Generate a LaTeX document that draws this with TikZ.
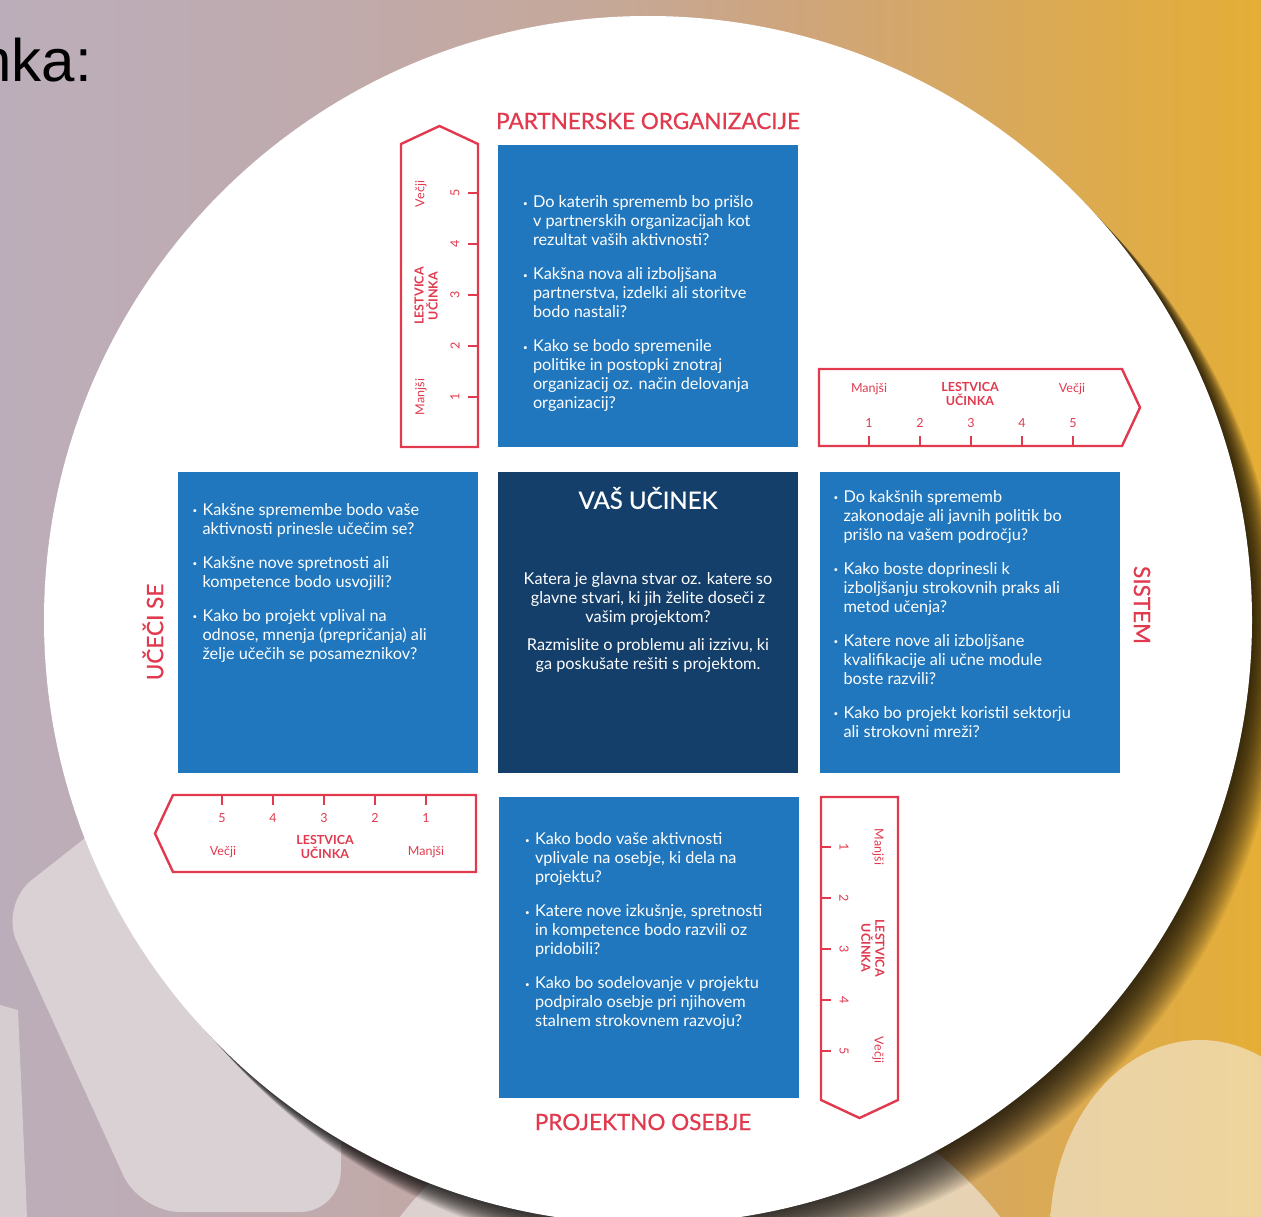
\documentclass[tikz,border=0pt]{standalone}
\usepackage{fontspec}
\setmainfont{Lato}
\newfontfamily\headfont{Liberation Sans}
\newfontfamily\labelfont[FakeBold=0.7]{Lato}
\usetikzlibrary{positioning}

\definecolor{impred}{HTML}{E13A4E}
\definecolor{impblue}{HTML}{2177BD}
\definecolor{impdark}{HTML}{143F6B}
\definecolor{bgleft}{HTML}{BBAEBA}
\definecolor{bgone}{HTML}{BFAAAE}
\definecolor{bgtwo}{HTML}{C6A899}
\definecolor{bgthree}{HTML}{CEA57C}
\definecolor{bgfour}{HTML}{D8A95C}
\definecolor{bgright}{HTML}{E4AE36}
\definecolor{paleA}{HTML}{DAD1D4}
\definecolor{paleB}{HTML}{D6CDD1}
\definecolor{paleC}{HTML}{E9D3AE}
\definecolor{sandA}{HTML}{EAD2A8}
\definecolor{sandB}{HTML}{F0D597}

% the path covers 25bp..75bp of the shading
\pgfdeclarehorizontalshading{bgshade}{100bp}{color(0bp)=(bgleft); color(25bp)=(bgleft); color(37bp)=(bgone);
  color(49bp)=(bgtwo); color(56.5bp)=(bgthree); color(64.5bp)=(bgfour); color(75bp)=(bgright); color(100bp)=(bgright)}

\newcommand{\qb}{\makebox[10pt][l]{\raisebox{1.5pt}{\fontsize{8}{8}\selectfont\textbullet}}}
\newcommand{\qi}{\hspace*{10pt}}

% one impact scale, drawn flat with ticks at the bottom
\newcommand{\lestvica}[2]{%
  \begin{scope}[#1]
    \draw[rulerline] (0,0) -- (303,0) -- (321,38.5) -- (303,77) -- (0,77) -- cycle;
    \foreach \i in {1,...,5} {
      \draw[rulerline] ({50+51*(\i-1)},77) -- ++(0,-10);
      \node[rulertext,#2] at ({50+51*(\i-1)},54) {\i};
    }
    \node[rulertext,#2] at (50,20) {Manjši};
    \node[rulerbold,#2] at (151,25) {LESTVICA\\UČINKA};
    \node[rulertext,#2] at (253,20) {Večji};
  \end{scope}}

\tikzset{
  bluebox/.style={fill=impblue, minimum width=300pt, minimum height=301pt, inner sep=0pt},
  qtext/.style={text=white, align=left, inner sep=0pt, font=\fontsize{16.3}{19}\selectfont},
  sidelabel/.style={text=impred, inner sep=0pt, font=\labelfont\fontsize{22.5}{26}\selectfont},
  rulerline/.style={draw=impred, line width=2.4pt},
  rulertext/.style={text=impred, inner sep=0pt, font=\fontsize{12.5}{14}\selectfont},
  rulerbold/.style={text=impred, inner sep=0pt, align=center, font=\fontsize{12.5}{14}\selectfont\bfseries},
}

\begin{document}
\begin{tikzpicture}[x=1pt,y=-1pt]
  \useasboundingbox (0,0) rectangle (1261,1217);
  \clip (0,0) rectangle (1261,1217);

  % background
  \shade[shading=bgshade] (0,0) rectangle (1261,1217);
  \fill[paleA, rounded corners=40pt] (0,905) -- (140,1212) -- (340,1212) -- (345,950) -- (165,775) -- cycle;
  \fill[paleB] (0,1005) -- (18,1010) -- (27,1217) -- (0,1217) -- cycle;
  \shade[left color=paleA, right color=paleC] (700,1450) circle[radius=380pt];
  \shade[left color=sandA, right color=sandB] (1200,1232) ellipse[x radius=150pt, y radius=192pt];
  \node[anchor=base east, inner sep=0pt, font=\headfont\fontsize{60}{66}\selectfont] (naslov) at (92,82) {nka:};

  % shadow and white disc
  \foreach \k in {1,...,24}
    \fill[black, opacity=0.05, shift={(\k*1.3,\k*1.4)}] (648,620) circle[radius=604pt];
  \fill[white] (648,620) circle[radius=604pt];

  % boxes
  \node[bluebox] (partner) at (648,296) {};
  \node[bluebox, fill=impdark] (ucinek) at (648,622.5) {};
  \node[bluebox] (ucece) at (327.5,622.5) {};
  \node[bluebox] (sistem) at (969.5,622.5) {};
  \node[bluebox] (osebje) at (649,947) {};

  % titles
  \node[sidelabel] (partnertitle) at (648,121) {PARTNERSKE ORGANIZACIJE};
  \node[sidelabel] (osebjetitle) at (643,1122) {PROJEKTNO OSEBJE};
  \node[sidelabel, rotate=90] (ucecetitle) at (153,632) {UČEČI SE};
  \node[sidelabel, rotate=-90] (sistemtitle) at (1142,605) {SISTEM};

  % questions
  \node[qtext, below right=50pt and 25pt of partner.north west] (partnertext) {%
    \qb Do katerih sprememb bo prišlo\\
    \qi v partnerskih organizacijah kot\\
    \qi rezultat vaših aktivnosti?\\[15pt]
    \qb Kakšna nova ali izboljšana\\
    \qi partnerstva, izdelki ali storitve\\
    \qi bodo nastali?\\[15pt]
    \qb Kako se bodo spremenile\\
    \qi politike in postopki znotraj\\
    \qi organizacij oz. način delovanja\\
    \qi organizacij?};
  \node[qtext, below right=31pt and 15pt of ucece.north west] (ucecetext) {%
    \qb Kakšne spremembe bodo vaše\\
    \qi aktivnosti prinesle učečim se?\\[15pt]
    \qb Kakšne nove spretnosti ali\\
    \qi kompetence bodo usvojili?\\[15pt]
    \qb Kako bo projekt vplival na\\
    \qi odnose, mnenja (prepričanja) ali\\
    \qi želje učečih se posameznikov?};
  \node[qtext, below right=18pt and 14pt of sistem.north west] (sistemtext) {%
    \qb Do kakšnih sprememb\\
    \qi zakonodaje ali javnih politik bo\\
    \qi prišlo na vašem področju?\\[15pt]
    \qb Kako boste doprinesli k\\
    \qi izboljšanju strokovnih praks ali\\
    \qi metod učenja?\\[15pt]
    \qb Katere nove ali izboljšane\\
    \qi kvalifikacije ali učne module\\
    \qi boste razvili?\\[15pt]
    \qb Kako bo projekt koristil sektorju\\
    \qi ali strokovni mreži?};
  \node[qtext, below right=36pt and 26pt of osebje.north west] (osebjetext) {%
    \qb Kako bodo vaše aktivnosti\\
    \qi vplivale na osebje, ki dela na\\
    \qi projektu?\\[15pt]
    \qb Katere nove izkušnje, spretnosti\\
    \qi in kompetence bodo razvili oz\\
    \qi pridobili?\\[15pt]
    \qb Kako bo sodelovanje v projektu\\
    \qi podpiralo osebje pri njihovem\\
    \qi stalnem strokovnem razvoju?};

  % centre
  \node[text=white, inner sep=0pt, font=\labelfont\fontsize{24}{28}\selectfont] (ucinektitle) at (648,498) {VAŠ UČINEK};
  \node[qtext, align=center, below=85pt of ucinektitle.north] (ucinektext) {%
    Katera je glavna stvar oz. katere so\\
    glavne stvari, ki jih želite doseči z\\
    vašim projektom?\\[9pt]
    Razmislite o problemu ali izzivu, ki\\
    ga poskušate rešiti s projektom.};

  % impact scales
  \lestvica{shift={(819,369)}}{}
  \lestvica{shift={(401,447)},rotate=90}{rotate=90}
  \lestvica{shift={(898,797)},rotate=-90}{rotate=-90}
  \lestvica{shift={(476,872)},rotate=180}{}
\end{tikzpicture}
\end{document}
